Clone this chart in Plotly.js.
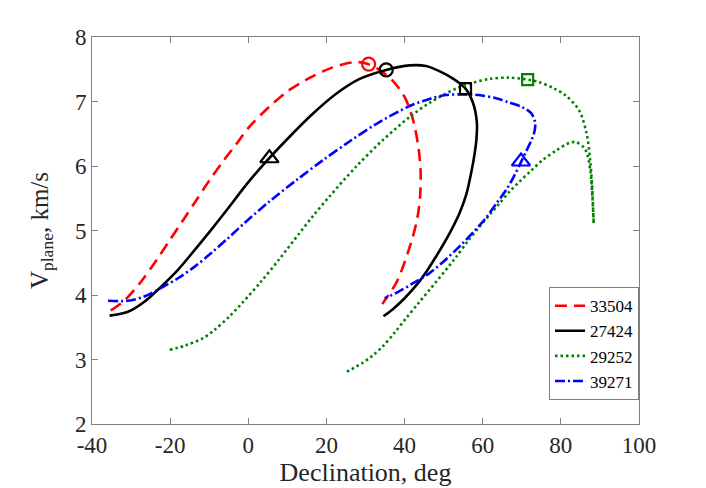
<!DOCTYPE html>
<html>
<head>
<meta charset="utf-8">
<script src="https://cdn.plot.ly/plotly-3.0.1.min.js"></script>
<style>html,body{margin:0;padding:0;background:#fff;}#chart{width:706px;height:488px;}</style>
</head>
<body>
<div id="chart"></div>
<script>
// Series names
const seriesNames = ["33504", "27424", "29252", "39271"];

// 33504 (red dashed)
const x33504 = [-35.2, -31.6, -27.4, -23.5, -20.1, -16.7, -13.3, -9.9, -6.5, -3.3, 0.3, 5.4, 10.1, 15.2, 20.8, 25.9, 28.3, 30.6, 33.5, 37.0, 40.0, 42.0, 43.4, 44.1, 44.0, 43.3, 42.1, 40.8, 39.3, 37.8, 36.0, 34.3];
const y33504 = [3.76, 3.92, 4.21, 4.54, 4.85, 5.16, 5.47, 5.78, 6.07, 6.32, 6.61, 6.92, 7.16, 7.35, 7.51, 7.60, 7.61, 7.58, 7.49, 7.32, 7.07, 6.75, 6.35, 5.93, 5.55, 5.20, 4.90, 4.65, 4.39, 4.18, 4.01, 3.86];

// 27424 (black solid)
const x27424 = [-35.5, -30.8, -26.5, -22.3, -18.0, -13.7, -9.5, -5.2, -0.9, 3.7, 10.5, 16.5, 22.5, 28.5, 35.3, 41.3, 45.5, 48.9, 52.5, 55.6, 57.5, 58.5, 58.4, 57.9, 57.0, 55.8, 54.0, 51.2, 48.1, 46.0, 43.4, 40.0, 37.0, 34.6];
const y27424 = [3.68, 3.74, 3.90, 4.13, 4.39, 4.70, 5.01, 5.34, 5.68, 6.01, 6.45, 6.81, 7.12, 7.35, 7.49, 7.56, 7.55, 7.47, 7.35, 7.20, 6.98, 6.68, 6.42, 6.18, 5.88, 5.56, 5.26, 4.92, 4.60, 4.40, 4.18, 3.95, 3.78, 3.67];

// 29252 (green dotted)
const x29252 = [-20.1, -16.0, -11.6, -8.6, -4.8, -1.5, 3.3, 8.0, 13.0, 16.5, 20.8, 27.6, 34.4, 41.3, 46.4, 53.2, 57.5, 61.7, 66.5, 71.5, 74.5, 78.0, 81.3, 84.7, 86.6, 87.5, 88.0, 88.4,
                88.1, 87.6, 86.8, 86.0, 83.9, 82.2, 78.8, 75.3, 72.4, 69.3, 66.8, 64.3, 62.0, 59.2, 56.0, 53.2, 51.5, 46.4, 43.5, 40.4, 37.5, 34.4, 31.8, 29.3, 24.6];
const y29252 = [3.15, 3.22, 3.33, 3.46, 3.67, 3.88, 4.21, 4.56, 4.95, 5.22, 5.53, 5.99, 6.40, 6.76, 6.98, 7.20, 7.29, 7.35, 7.37, 7.34, 7.30, 7.21, 7.09, 6.86, 6.50, 6.09, 5.68, 5.11,
                5.50, 5.90, 6.17, 6.28, 6.37, 6.36, 6.24, 6.09, 5.93, 5.75, 5.60, 5.42, 5.26, 5.06, 4.82, 4.59, 4.46, 4.08, 3.87, 3.64, 3.42, 3.20, 3.06, 2.95, 2.79];

// 39271 (blue dash-dot)
const x39271 = [-35.9, -30.8, -26.5, -22.3, -18.0, -13.7, -9.5, -5.2, -0.9, 5.4, 12.3, 19.1, 25.9, 32.7, 41.3, 46.4, 50.5, 54.9, 59.0, 63.4, 67.0, 70.2, 72.4, 73.4, 73.3, 72.6, 71.3, 69.8, 68.0, 66.0, 63.5, 60.9, 58.0, 54.5, 50.0, 46.4, 42.1, 37.8, 34.9];
const y39271 = [3.91, 3.91, 3.98, 4.11, 4.26, 4.44, 4.65, 4.88, 5.12, 5.45, 5.78, 6.09, 6.38, 6.65, 6.93, 7.04, 7.10, 7.11, 7.10, 7.05, 6.98, 6.91, 6.82, 6.68, 6.55, 6.42, 6.25, 6.06, 5.84, 5.63, 5.42, 5.20, 5.00, 4.78, 4.52, 4.34, 4.18, 4.03, 3.95];

// Marked points
const circleX = [30.8, 35.3];
const circleY = [7.58, 7.49];
const circleColors = ["#ff0000", "#000000"];
const triX = [5.4, 69.8];
const triY = [6.12, 6.07];
const triColors = ["#000000", "#0000ff"];
const sqX = [55.6, 71.5];
const sqY = [7.20, 7.34];
const sqColors = ["#000000", "#008000"];

const xTicks = [-40, -20, 0, 20, 40, 60, 80, 100];
const yTicks = [2, 3, 4, 5, 6, 7, 8];

const W = 2.6;
const SM = 0.9;
const traces = [
  {x: x33504, y: y33504, name: seriesNames[0], mode: "lines", line: {color: "#ff0000", width: W, dash: "12px,7px", shape: "spline", smoothing: SM}},
  {x: x27424, y: y27424, name: seriesNames[1], mode: "lines", line: {color: "#000000", width: W, shape: "spline", smoothing: SM}},
  {x: x29252, y: y29252, name: seriesNames[2], mode: "lines", line: {color: "#008000", width: W, dash: "2.5px,3px", shape: "spline", smoothing: SM}},
  {x: x39271, y: y39271, name: seriesNames[3], mode: "lines", line: {color: "#0000ff", width: W, dash: "10px,3px,2px,3px", shape: "spline", smoothing: SM}},
  {x: circleX, y: circleY, mode: "markers", showlegend: false, hoverinfo: "skip",
   marker: {symbol: "circle-open", size: 13, line: {width: 2.2, color: circleColors}, color: circleColors}},
  {x: triX, y: triY, mode: "markers", showlegend: false, hoverinfo: "skip",
   marker: {symbol: "triangle-up-open", size: 16, line: {width: 2.2, color: triColors}, color: triColors}},
  {x: sqX, y: sqY, mode: "markers", showlegend: false, hoverinfo: "skip",
   marker: {symbol: "square-open", size: 11, line: {width: 2.2, color: sqColors}, color: sqColors}}
];

const fontFam = "Liberation Serif, Times New Roman, serif";
const layout = {
  width: 706, height: 488,
  margin: {l: 92, r: 66.5, t: 36.5, b: 63.5},
  paper_bgcolor: "#ffffff", plot_bgcolor: "#ffffff",
  font: {family: fontFam, color: "#262626", size: 23},
  showlegend: true,
  xaxis: {
    range: [-40, 100], tickvals: xTicks, ticktext: xTicks.map(String),
    showgrid: false, zeroline: false, showline: true, mirror: "ticks",
    linecolor: "#808080", linewidth: 1, ticks: "inside", ticklen: 6, tickcolor: "#808080",
    tickfont: {family: fontFam, size: 23, color: "#262626"},
    title: {text: "Declination, deg", font: {family: fontFam, size: 26, color: "#262626"}, standoff: 4}
  },
  yaxis: {
    range: [2, 8], tickvals: yTicks, ticktext: yTicks.map(String),
    showgrid: false, zeroline: false, showline: true, mirror: "ticks",
    linecolor: "#808080", linewidth: 1, ticks: "inside", ticklen: 6, tickcolor: "#808080",
    tickfont: {family: fontFam, size: 23, color: "#262626"},
    title: {text: "V<sub>plane</sub>, km/s", font: {family: fontFam, size: 25, color: "#262626"}, standoff: 19}
  },
  legend: {
    x: 1, xanchor: "right", y: 0.3536, yanchor: "top",
    bgcolor: "#ffffff", bordercolor: "#808080", borderwidth: 1,
    font: {family: fontFam, size: 17, color: "#000000"},
    itemwidth: 30, tracegroupgap: 0
  }
};

Plotly.newPlot("chart", traces, layout, {displayModeBar: false, staticPlot: true});
</script>
</body>
</html>
